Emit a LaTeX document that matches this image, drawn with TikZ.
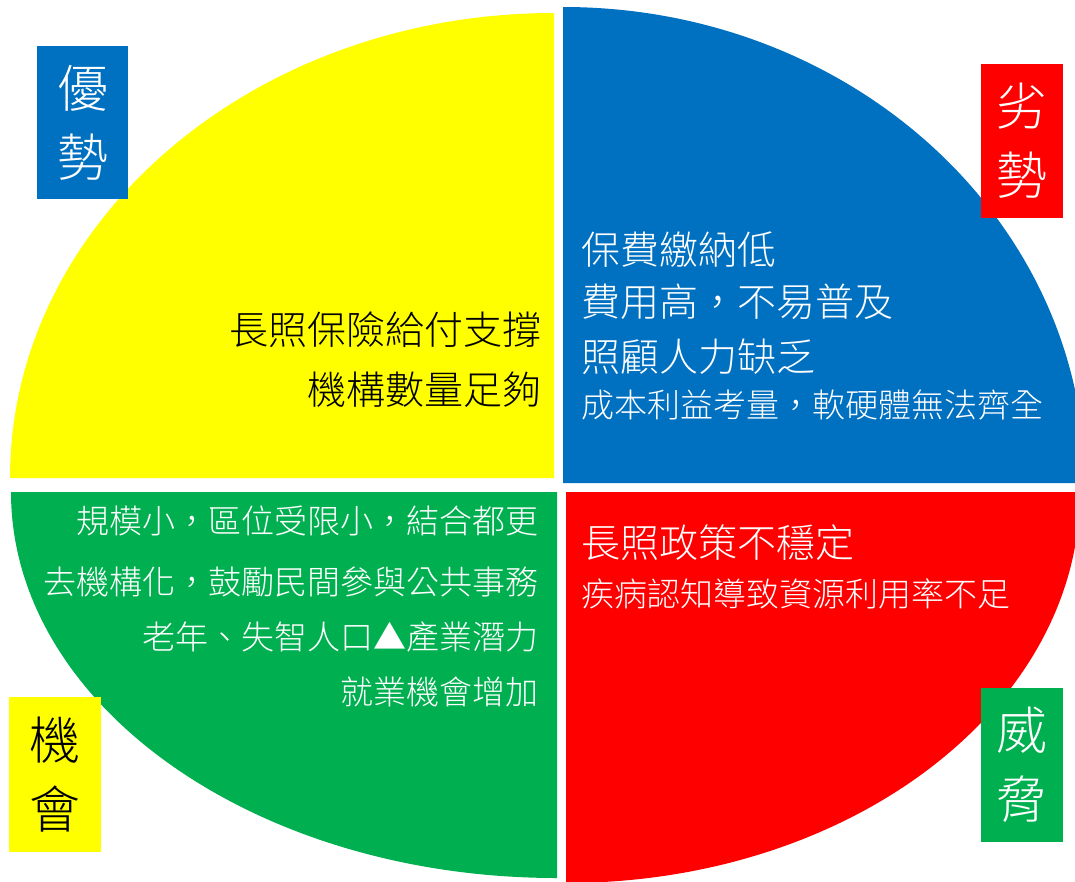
\documentclass[tikz,border=0pt]{standalone}
\usepackage{fontspec}
\setmainfont{Noto Sans CJK TC}[UprightFont={* Light},Script=CJK,Language=Chinese Traditional]
\definecolor{qyellow}{HTML}{FFFF00}
\definecolor{qblue}{HTML}{0070C0}
\definecolor{qgreen}{HTML}{00B050}
\definecolor{qred}{HTML}{FF0000}
\begin{document}
\begin{tikzpicture}[x=1pt,y=1pt,
  bigtxt/.style={inner sep=0pt,font=\fontsize{39}{47}\selectfont},
  smalltxt/.style={inner sep=0pt,font=\fontsize{33}{40}\selectfont},
  labelbox/.style={inner sep=0pt,align=center,font=\fontsize{51}{69}\selectfont}]
\useasboundingbox (0,0) rectangle (1075,-881);
\clip (0,0) rectangle (1075,-881);
% quadrants
\fill[qyellow] (554,-478) -- (10,-478) arc[start angle=180,end angle=90,x radius=544,y radius=465] -- cycle;
\fill[qblue] (563,-483) -- (563,-7) arc[start angle=90,end angle=0,x radius=522,y radius=476] -- cycle;
\fill[qgreen] (557,-492) -- (11,-492) arc[start angle=180,end angle=270,x radius=546,y radius=386] -- cycle;
\fill[qred] (566,-492) -- (1080,-492) arc[start angle=0,end angle=-90,x radius=514,y radius=391] -- cycle;
% label boxes
\node[labelbox,fill=qblue,text=white,minimum width=91,minimum height=153] (s) at (82.5,-122.5) {優\\勢};
\node[labelbox,fill=qred,text=white,minimum width=82,minimum height=154] (w) at (1022,-141) {劣\\勢};
\node[labelbox,fill=qyellow,text=black,minimum width=92,minimum height=155] (o) at (55,-774.5) {機\\會};
\node[labelbox,fill=qgreen,text=white,minimum width=82,minimum height=154] (t) at (1022,-765) {威\\脅};
% strengths
\node[bigtxt,anchor=east] (s1) at (542,-330) {長照保險給付支撐};
\node[bigtxt,anchor=east] (s2) at (542,-390) {機構數量足夠};
% weaknesses
\node[bigtxt,anchor=west,text=white] (w1) at (581,-250) {保費繳納低};
\node[bigtxt,anchor=west,text=white] (w2) at (581,-302) {費用高，不易普及};
\node[bigtxt,anchor=west,text=white] (w3) at (581,-357) {照顧人力缺乏};
\node[smalltxt,anchor=west,text=white] (w4) at (581,-405) {成本利益考量，軟硬體無法齊全};
% opportunities
\node[smalltxt,anchor=east,text=white] (o1) at (539,-521) {規模小，區位受限小，結合都更};
\node[smalltxt,anchor=east,text=white] (o2) at (539,-582) {去機構化，鼓勵民間參與公共事務};
\node[smalltxt,anchor=east,text=white] (o3) at (539,-637) {老年、失智人口▲產業潛力};
\node[smalltxt,anchor=east,text=white] (o4) at (539,-692) {就業機會增加};
% threats
\node[bigtxt,anchor=west,text=white] (t1) at (581,-543) {長照政策不穩定};
\node[smalltxt,anchor=west,text=white] (t2) at (581,-594) {疾病認知導致資源利用率不足};
\end{tikzpicture}
\end{document}
